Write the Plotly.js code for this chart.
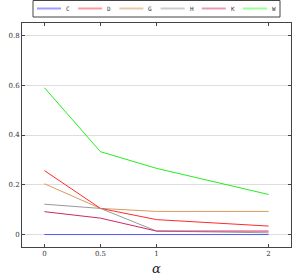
<!DOCTYPE html>
<html><head><meta charset="utf-8">
<script src="https://cdn.plot.ly/plotly-3.0.1.min.js"></script>
<style>html,body{margin:0;padding:0;background:#fff}</style>
</head><body><div id="chart" style="width:292px;height:276px"></div>
<script>
var alpha = [0, 0.5, 1, 2];
var seriesNames = ['C', 'D', 'G', 'H', 'K', 'W'];
var C = [0, 0, 0, 0];
var D = [0.257, 0.105, 0.060, 0.034];
var G = [0.204, 0.105, 0.093, 0.093];
var H = [0.122, 0.105, 0.014, 0.007];
var K = [0.092, 0.066, 0.014, 0.014];
var W = [0.590, 0.333, 0.266, 0.161];
var yTicks = [0, 0.2, 0.4, 0.6, 0.8];
var yTickText = ['0', '0.2', '0.4', '0.6', '0.8'];
var xTicks = [0, 0.5, 1, 2];
var xTickText = ['0', '0.5', '1', '2'];

var values = [C, D, G, H, K, W];
var lineColors = ['#5555ff', '#ff2a2a', '#d99a5e', '#9a9a9a', '#cc2a66', '#22ee22'];
var legendColors = ['#9d9dff', '#ff9a9a', '#e8c8a6', '#cccccc', '#e899b8', '#99ff99'];

var W_PX = 292, H_PX = 276;
var M = {l: 22, r: 1, t: 23, b: 29};
var plotW = W_PX - M.l - M.r, plotH = H_PX - M.t - M.b;
function px(x) { return (x - M.l) / plotW; }
function py(y) { return (H_PX - M.b - y) / plotH; }

var traces = [];
var order = [5, 2, 1, 3, 4, 0];
order.forEach(function (i) {
  traces.push({x: alpha, y: values[i], mode: 'lines', name: seriesNames[i],
    line: {color: lineColors[i], width: 1}, showlegend: false, hoverinfo: 'skip'});
});

// manual legend (pgfplots-style horizontal legend box)
var shapes = [{type: 'rect', xref: 'paper', yref: 'paper',
  x0: px(33), x1: px(280), y0: py(17), y1: py(0.5),
  line: {color: '#444', width: 1}, fillcolor: 'rgba(0,0,0,0)'}];
var annotations = [];
seriesNames.forEach(function (n, i) {
  var x0 = 37 + i * 41.2;
  shapes.push({type: 'line', xref: 'paper', yref: 'paper',
    x0: px(x0), x1: px(x0 + 24), y0: py(8.5), y1: py(8.5),
    line: {color: legendColors[i], width: 2}});
  annotations.push({xref: 'paper', yref: 'paper', x: px(x0 + 27), y: py(8.5),
    xanchor: 'left', yanchor: 'middle', showarrow: false, text: n,
    font: {family: 'DejaVu Sans Mono, monospace', size: 6, color: '#333'}});
});

var axisCommon = {
  showline: true, linecolor: '#444', linewidth: 1, mirror: 'ticks',
  ticks: 'inside', ticklen: 3, tickcolor: '#444', tickwidth: 1,
  tickfont: {family: 'DejaVu Serif, serif', size: 7, color: '#333'},
  zeroline: false
};
var layout = {
  width: W_PX, height: H_PX,
  margin: M,
  paper_bgcolor: '#fff', plot_bgcolor: '#fff',
  showlegend: false,
  shapes: shapes,
  annotations: annotations,
  xaxis: Object.assign({}, axisCommon, {
    range: [-0.2, 2.2], tickvals: xTicks, ticktext: xTickText, showgrid: false,
    title: {text: 'α', font: {family: 'DejaVu Serif, serif', size: 13, color: '#222', style: 'italic'}, standoff: 6}
  }),
  yaxis: Object.assign({}, axisCommon, {
    range: [-0.05, 0.85], tickvals: yTicks, ticktext: yTickText,
    showgrid: true, gridcolor: '#dddddd', gridwidth: 1
  })
};
Plotly.newPlot('chart', traces, layout, {displayModeBar: false, staticPlot: true});
</script></body></html>
